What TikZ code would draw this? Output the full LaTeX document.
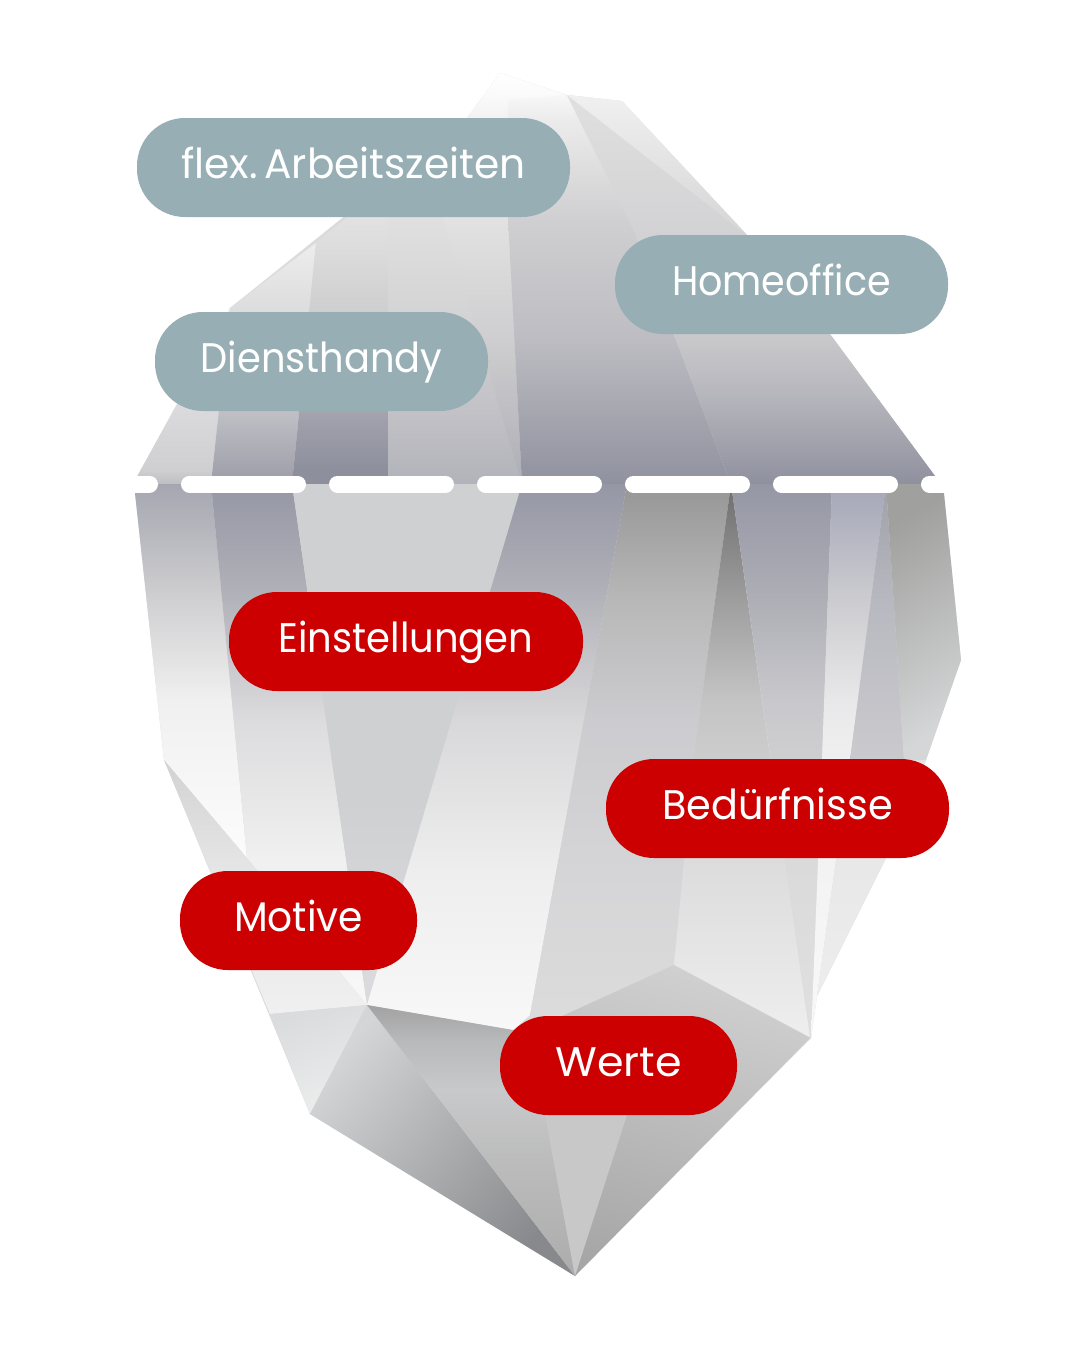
\documentclass[tikz,border=0pt]{standalone}
\usepackage{fontspec}
\setmainfont{Poppins}
\newfontfamily\pillfont[FakeStretch=0.92]{Poppins}
\definecolor{pillteal}{HTML}{97AFB4}
\definecolor{pillred}{HTML}{CC0000}
\definecolor{bl}{HTML}{D4D6D7}
\definecolor{blm}{HTML}{CBCDCE}
\definecolor{bld}{HTML}{A0A09E}
\definecolor{bA}{HTML}{DADBDC}
\definecolor{bB}{HTML}{ECEDED}
\definecolor{bC}{HTML}{D4D5D6}
\definecolor{bD}{HTML}{B8B9BA}
\definecolor{bE}{HTML}{88898C}
\definecolor{bI}{HTML}{D0D0D1}
\definecolor{bJ}{HTML}{BDBDBD}
\definecolor{bK}{HTML}{A6A6A6}
\definecolor{bL}{HTML}{C8C8C8}
\definecolor{ca}{HTML}{FFFFFF}
\definecolor{cb}{HTML}{FFFFFF}
\newcommand\facet[2]{\begin{scope}\clip #1;
 \foreach \yy/\cc [remember=\yy as \py (initially -1), remember=\cc as \pc (initially FFFFFF)] in {#2}{%
  \ifnum\py<0 \else
   \definecolor{ca}{HTML}{\pc}\definecolor{cb}{HTML}{\cc}%
   \shade[top color=ca,bottom color=cb] (0,\py) rectangle (1080,\yy+0.5);
  \fi}
 \end{scope}}
\tikzset{
 pill/.style={rectangle,rounded corners=36pt,inner sep=0pt,minimum height=74.25pt,text=white,
   font=\pillfont\fontsize{31}{31}\selectfont,text height=22.4pt,text depth=6.6pt},
 tealpill/.style={pill,fill=pillteal},
 redpill/.style={pill,fill=pillred},
 waterline/.style={draw=white,line width=12.75pt,line cap=round,dash pattern=on 81pt off 30pt}
}
\begin{document}
\begin{tikzpicture}[x=0.75pt,y=-0.75pt]
\useasboundingbox (0,0) rectangle (1080,1350);
\fill[white] (0,0) rectangle (1080,1350);
% base silhouette
\fill[black!14] (133,484)--(230,308)--(467,118)--(500,73)--(567,95)--(622,101)--(748,236)--(830,334)--(941,484)--cycle;
\fill[black!14] (134,484)--(943,484)--(961,660)--(926,760)--(886,858)--(817,996)--(811,1038)--(575,1276)--(310,1114)--(164,760)--cycle;
% above the water
\facet{(133,484)--(230,308)--(211,484)--cycle}{308/F0F0F0,410/DADADC,470/CFCFD2,484/BEBEC2}
\facet{(211,484)--(230,308)--(316,243)--(292,484)--cycle}{243/EDEDED,320/DADADB,410/C0C0C6,484/9C9CA8}
\facet{(292,484)--(316,243)--(388,183)--(388,484)--cycle}{183/E8E8E8,243/DDDDDD,340/C8C8CA,420/A0A0AC,470/8E8F9D,484/8E8F9D}
\facet{(388,484)--(388,183)--(467,118)--(522,484)--cycle}{118/F0F0F0,217/E0E0E0,340/D0D0D2,484/B2B2BA}
\facet{(443,217)--(467,118)--(505,118)--(508,217)--(522,484)--cycle}{118/EEEEEE,217/E2E2E2,340/CECED0,484/ADADB5}
\facet{(467,118)--(500,73)--(567,95)--(508,217)--cycle}{73/FFFFFF,95/FAFAFA,118/F2F2F2,217/DEDEDE}
\facet{(508,100)--(567,95)--(635,233)--(731,484)--(522,484)--(508,217)--cycle}{95/F7F7F7,118/ECECEC,217/D0D0D2,340/BCBCC2,420/A4A4AE,484/90919F}
\facet{(567,95)--(748,236)--(830,334)--(941,484)--(731,484)--(635,233)--cycle}{95/E0E0E0,236/D2D2D4,340/C8C8CB,400/B4B4BB,484/8F909E}
\facet{(567,95)--(622,101)--(748,236)--cycle}{95/F0F0F0,236/D5D5D6}
% below the water
\facet{(134,484)--(211,484)--(247,858)--(164,760)--cycle}{484/A5A6B0,600/D0D0D2,700/F0F0F0,858/FCFCFC}
\facet{(211,484)--(292,484)--(367,1005)--(247,858)--cycle}{484/9697A5,590/B0B0B8,720/DCDCDE,860/F0F0F0,1005/F8F8F8}
\facet{(164,760)--(247,858)--(367,1005)--(270,1014)--cycle}{760/D2D2D2,860/E4E4E4,1014/F0F0F0}
\facet{(292,484)--(522,484)--(367,1005)--cycle}{484/CFD0D2,800/CFD0D2,1005/DCDCDE}
\facet{(522,484)--(627,484)--(530,1015)--(513,1030)--(367,1005)--cycle}{484/9697A5,590/B0B0B8,720/D8D8DA,870/EEEEEE,1030/F8F8F8}
\facet{(627,484)--(731,484)--(695,747)--(674,965)--(527,1032)--(530,1015)--cycle}{484/969696,600/B8B8B8,720/CCCCD0,870/D5D5D7,1032/DCDCDC}
\facet{(731,484)--(695,747)--(674,965)--(810,1037)--cycle}{484/6E6E6E,600/9E9E9E,700/C4C4C4,860/DCDCDC,1037/EEEEEE}
\facet{(731,484)--(832,484)--(822,760)--(811,1038)--cycle}{484/9697A5,600/AEAEB6,700/C8C8CC,860/DADADB,1038/E0E0E0}
\facet{(832,484)--(886,484)--(850,760)--(817,996)--(811,1038)--(822,760)--cycle}{484/A5A6B8,600/CCCCD0,700/E8E8EA,760/F0F0F0,1038/F8F8F8}
\facet{(886,484)--(904,760)--(850,760)--cycle}{484/A0A0A8,600/B8B8C0,760/CACACE}
\facet{(850,760)--(926,760)--(886,858)--(817,996)--cycle}{760/E4E4E4,996/EDEDED}
\shade[top color=bld,middle color=blm,bottom color=bl,shading angle=30] (886,484)--(943,484)--(961,660)--(926,760)--(904,760)--cycle;
% keel
\shade[top color=bA,bottom color=bB,shading angle=20] (270,1014)--(367,1005)--(310,1114)--cycle;
\shade[top color=bC,middle color=bD,bottom color=bE,shading angle=50] (367,1005)--(575,1276)--(310,1114)--cycle;
\facet{(367,1005)--(513,1030)--(545,1115)--(575,1276)--cycle}{1005/A2A2A2,1040/B8B9BA,1090/C8C9CB,1160/BCBCBC,1276/ACACAC}
\shade[top color=bI,middle color=bJ,bottom color=bK,shading angle=-15] (513,1030)--(527,1032)--(674,965)--(810,1038)--(575,1276)--(545,1115)--cycle;
\fill[bL] (545,1115)--(627,1115)--(575,1276)--cycle;
% water line
\coordinate (wl) at (41.5,484);
\coordinate (wr) at (1040,484);
\draw[waterline] (wl)--(wr);
% labels
\node[tealpill,minimum width=324.75pt] (flex) at (353.5,167.5) {\scalebox{1.07}[1]{flex.\hspace{0.15em}Arbeitszeiten}};
\node[tealpill,minimum width=249.75pt] (home) at (781.5,284.5) {Homeoffice};
\node[tealpill,minimum width=249.75pt] (dienst) at (321.5,361.5) {\scalebox{1.01}[1]{Diensthandy}};
\node[redpill,minimum width=265.5pt] (einst) at (406,641.5) {\scalebox{1.012}[1]{Einstellungen}};
\node[redpill,minimum width=257.25pt] (bed) at (777.5,808.5) {\scalebox{1.045}[1]{Bedürfnisse}};
\node[redpill,minimum width=177.75pt] (motive) at (298.5,920.5) {\scalebox{1.03}[1]{Motive}};
\node[redpill,minimum width=177.75pt] (werte) at (618.5,1065.5) {\scalebox{1.125}[1]{Werte}};
\end{tikzpicture}
\end{document}
